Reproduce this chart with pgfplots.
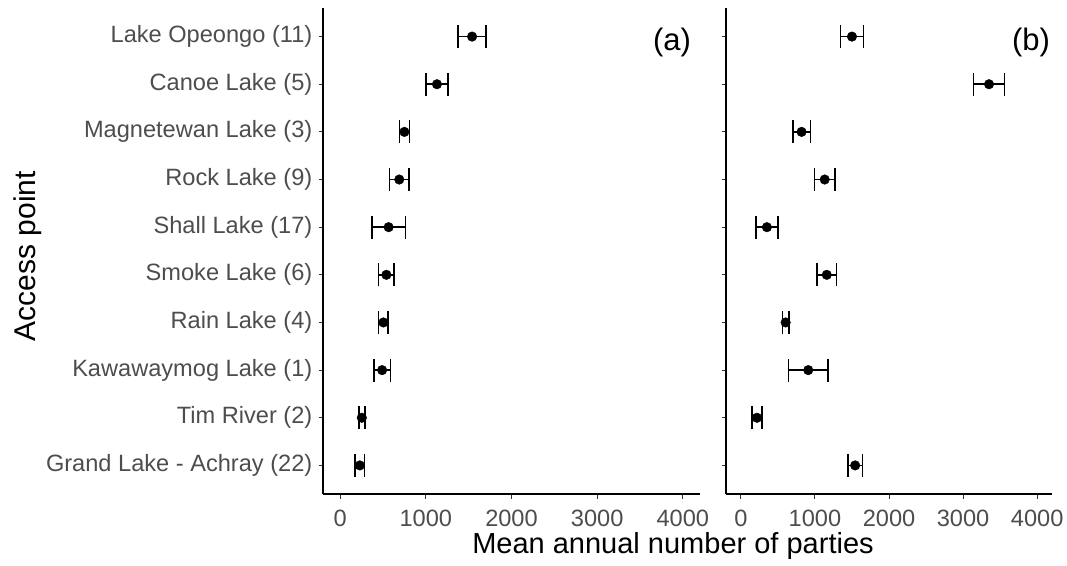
\documentclass[border=0pt]{standalone}
\usepackage{pgfplots}
\pgfplotsset{compat=1.18}
\usepackage{pgfplotstable}
\usepackage{fontspec}
\setmainfont{Liberation Sans}
\definecolor{tickgray}{HTML}{4D4D4D}
\definecolor{ticklinegray}{HTML}{333333}

% y: 10 = Lake Opeongo ... 1 = Grand Lake - Achray
\pgfplotstableread{
y mean err
10 1540 165
9 1130 130
8 750 58
7 690 113
6 566 195
5 540 92
4 505 57
3 490 96
2 253 36
1 230 55
}\dataA

\pgfplotstableread{
y mean err
10 1500 157
9 3350 210
8 820 118
7 1132 136
6 352 148
5 1160 132
4 605 43
3 910 268
2 218 70
1 1543 100
}\dataB

\pgfplotsset{
  panel/.style={
    scale only axis, height=486pt, anchor=south west,
    xmin=-200, xmax=4200, ymin=0.4, ymax=10.6,
    axis x line*=bottom, axis y line*=left,
    axis line style={black, line width=1.1pt},
    xtick={0,1000,2000,3000,4000},
    xticklabels={0,1000,2000,3000,4000},
    ytick={1,...,10},
    tick style={ticklinegray, line width=0.9pt},
    tick align=outside, major tick length=4.5pt,
    ticklabel style={font=\fontsize{23.6}{23.6}\selectfont, text=tickgray},
    xticklabel style={inner sep=0pt, yshift=-11pt},
    yticklabel style={inner sep=0pt, xshift=-6pt},
    clip=false,
  },
  pts/.style={only marks, mark=*, mark size=4.8pt, black,
    error bars/.cd, x dir=both, x explicit,
    error bar style={line width=1.5pt, black},
    error mark options={mark size=11.5pt, line width=1.6pt, black, rotate=90}},
}

\begin{document}
\begin{tikzpicture}
\useasboundingbox (0,0) rectangle (1067pt,565pt);
\begin{axis}[panel, at={(323pt,71pt)}, width=377pt,
  yticklabels={Grand Lake - Achray (22),Tim River (2),Kawawaymog Lake (1),Rain Lake (4),Smoke Lake (6),Shall Lake (17),Rock Lake (9),Magnetewan Lake (3),Canoe Lake (5),Lake Opeongo (11)}]
\addplot[pts] table[x=mean, y=y, x error=err] {\dataA};
\end{axis}
\begin{axis}[panel, at={(726pt,71pt)}, width=326pt, yticklabels={}]
\addplot[pts] table[x=mean, y=y, x error=err] {\dataB};
\end{axis}
\node[font=\fontsize{31}{31}\selectfont] at (672pt,523pt) {(a)};
\node[font=\fontsize{31}{31}\selectfont] at (1031pt,523pt) {(b)};
\node[font=\fontsize{29}{29}\selectfont, anchor=base] at (673pt,12pt) {Mean annual number of parties};
\node[font=\fontsize{30}{30}\selectfont, rotate=90, anchor=base] at (35pt,309pt) {Access point};
\end{tikzpicture}
\end{document}
